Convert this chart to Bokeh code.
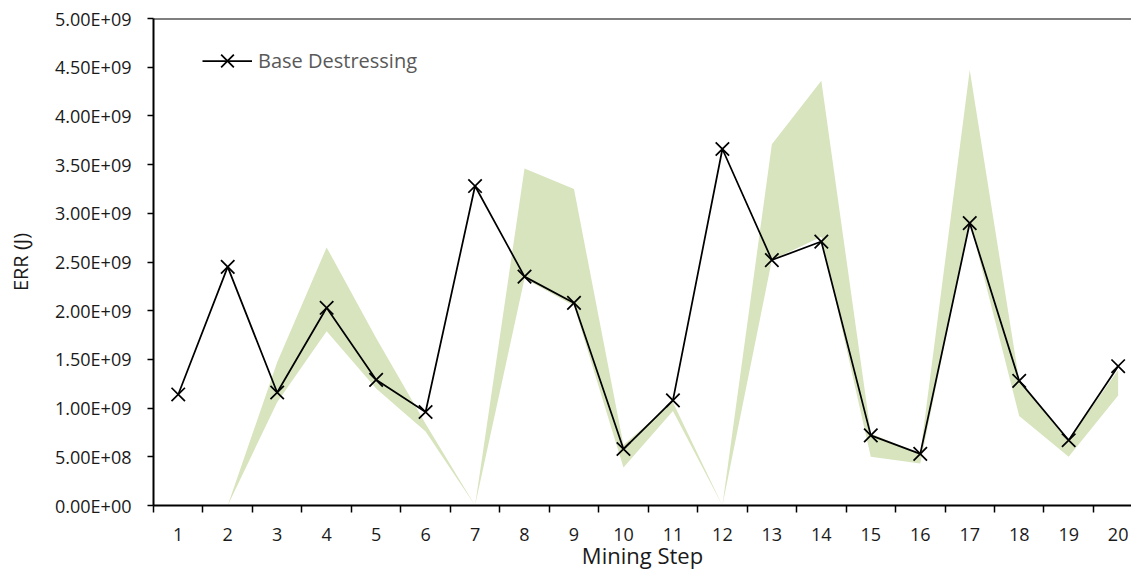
from bokeh.plotting import figure
from bokeh.models import Range1d, FixedTicker, Span, Legend, LegendItem
from bokeh.embed import file_html
from bokeh.resources import INLINE

# Mining steps along the x axis
steps = list(range(1, 21))

# Energy release rate for the base destressing case (J)
base_destressing = [1.14e9, 2.45e9, 1.16e9, 2.03e9, 1.29e9, 0.96e9, 3.28e9, 2.35e9, 2.08e9, 0.58e9,
                    1.08e9, 3.66e9, 2.52e9, 2.71e9, 0.72e9, 0.53e9, 2.90e9, 1.28e9, 0.67e9, 1.43e9]

# Range of ERR over the alternative sequences (shaded band)
range_low = [0.0, 0.0, 1.06e9, 1.79e9, 1.20e9, 0.76e9, 0.0, 2.33e9, 2.05e9, 0.39e9,
             0.97e9, 0.0, 2.52e9, 2.76e9, 0.50e9, 0.43e9, 2.92e9, 0.92e9, 0.50e9, 1.13e9]
range_high = [0.0, 0.0, 1.47e9, 2.65e9, 1.72e9, 0.84e9, 0.0, 3.46e9, 3.25e9, 0.62e9,
              1.06e9, 0.0, 3.71e9, 4.36e9, 0.74e9, 0.53e9, 4.47e9, 1.28e9, 0.67e9, 1.39e9]

y_ticks = [i * 5e8 for i in range(11)]
y_tick_labels = {t: f"{t:.2E}" for t in y_ticks}

FONT = "Open Sans"
TEXT = "#1a1a1a"

p = figure(width=1131, height=572, output_backend="svg", toolbar_location=None,
           x_range=Range1d(0.5, 20.27), y_range=Range1d(0, 5e9),
           min_border_left=153, min_border_right=0, min_border_top=18, min_border_bottom=67)

p.outline_line_color = None
p.grid.grid_line_color = None
p.background_fill_color = "white"
p.border_fill_color = "white"

# shaded range band
p.varea(x=steps, y1=range_low, y2=range_high, fill_color="#D7E4BD", fill_alpha=1.0)

# base destressing series
line_r = p.line(steps, base_destressing, line_color="black", line_width=1.75)
mark_r = p.scatter(steps, base_destressing, marker="x", size=19, line_color="black", line_width=1.75)

# top border of the plot area
p.add_layout(Span(location=5e9, dimension="width", line_color="black", line_width=2))

# x axis: labels at category centres, tick marks between categories
xa = p.xaxis[0]
xa.ticker = FixedTicker(ticks=steps, minor_ticks=[s - 0.5 for s in steps] + [20.5])
xa.major_tick_line_color = None
xa.minor_tick_line_color = "black"
xa.minor_tick_line_width = 1.5
xa.minor_tick_out = 7
xa.minor_tick_in = 0
xa.axis_line_color = "black"
xa.axis_line_width = 2
xa.major_label_text_font = FONT
xa.major_label_text_font_size = "18px"
xa.major_label_text_color = TEXT
xa.major_label_standoff = 15
xa.axis_label = "Mining Step"
xa.axis_label_text_font = FONT
xa.axis_label_text_font_size = "22px"
xa.axis_label_text_font_style = "normal"
xa.axis_label_text_color = TEXT
xa.axis_label_standoff = -4

# y axis
ya = p.yaxis[0]
ya.ticker = FixedTicker(ticks=y_ticks, minor_ticks=[])
ya.major_label_overrides = y_tick_labels
ya.major_tick_line_color = "black"
ya.major_tick_line_width = 1.5
ya.major_tick_out = 6
ya.major_tick_in = 0
ya.minor_tick_line_color = None
ya.axis_line_color = "black"
ya.axis_line_width = 2
ya.major_label_text_font = FONT
ya.major_label_text_font_size = "18px"
ya.major_label_text_color = TEXT
ya.major_label_standoff = 16
ya.axis_label = "ERR (J)"
ya.axis_label_text_font = FONT
ya.axis_label_text_font_size = "20px"
ya.axis_label_text_font_style = "normal"
ya.axis_label_text_color = TEXT
ya.axis_label_standoff = 18

legend = Legend(items=[LegendItem(label="Base Destressing", renderers=[line_r, mark_r])],
                location=(49, 422), padding=0, margin=0, spacing=0,
                glyph_width=50, glyph_height=45, label_standoff=6,
                label_text_font=FONT, label_text_font_size="20px", label_text_color="#595959",
                background_fill_alpha=0, border_line_color=None)
p.add_layout(legend)

open("out.html", "w").write(file_html(p, INLINE))
